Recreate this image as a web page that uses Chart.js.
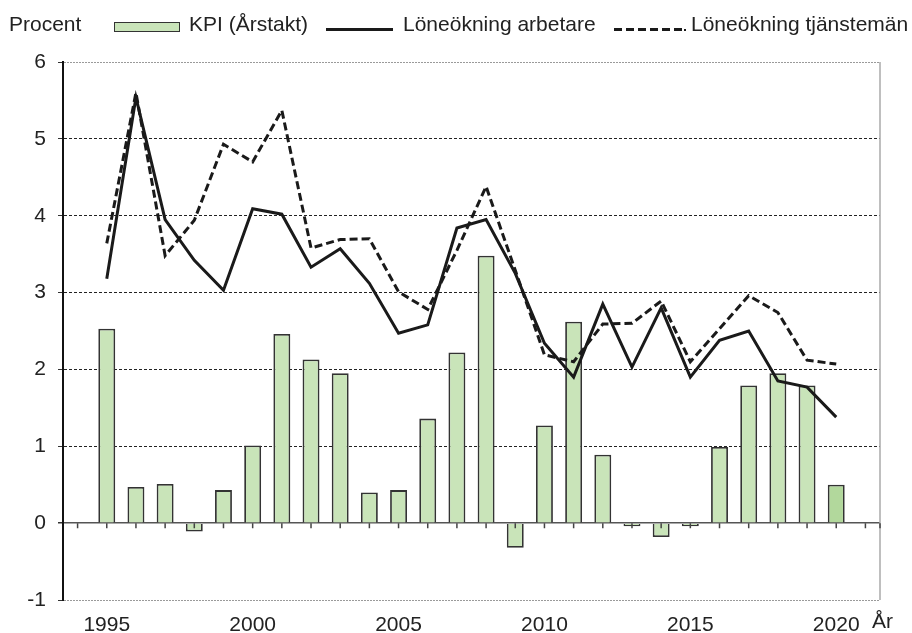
<!DOCTYPE html>
<html>
<head>
<meta charset="utf-8">
<script src="https://cdn.jsdelivr.net/npm/chart.js@4"></script>
<style>
  body { margin: 0; background: #fff; }
  #wrap { position: relative; width: 912px; height: 633px; font-family: "Liberation Sans", Arial, sans-serif; color: #222; }
  #wrap canvas { position: absolute; left: 0; top: 0; }
  .txt { position: absolute; font-size: 21px; line-height: 24px; white-space: nowrap; }
  .swatch { position: absolute; }
</style>
</head>
<body>
<div id="wrap">
  <canvas id="kpiChart" width="912" height="633"></canvas>
  <span class="txt" style="left:9px; top:12px;">Procent</span>
  <div class="swatch" style="left:114px; top:22px; width:64px; height:8px; background:#c9e4b9; border:1.5px solid #333;"></div>
  <span class="txt" style="left:189px; top:12px;">KPI (Årstakt)</span>
  <div class="swatch" style="left:326px; top:28px; width:67px; height:3px; background:#1a1a1a;"></div>
  <span class="txt" style="left:403px; top:12px;">Löneökning arbetare</span>
  <div class="swatch" style="left:614px; top:28px; width:68px; height:3px; background:repeating-linear-gradient(90deg, #1a1a1a 0 8px, transparent 8px 12px);"></div>
  <div class="swatch" style="left:684px; top:29px; width:2px; height:2px; background:#1a1a1a;"></div>
  <span class="txt" style="left:691px; top:12px;">Löneökning tjänstemän</span>
  <span class="txt" style="left:872px; top:609px;">År</span>
</div>
<script>
// Years on the category axis (1994 and 2021 are empty padding slots)
const years = [1994, 1995, 1996, 1997, 1998, 1999, 2000, 2001, 2002, 2003, 2004, 2005, 2006, 2007,
  2008, 2009, 2010, 2011, 2012, 2013, 2014, 2015, 2016, 2017, 2018, 2019, 2020, 2021];

// KPI, annual rate (bars)
const kpi = [null, 2.53, 0.47, 0.51, -0.11, 0.43, 1.01, 2.46, 2.13, 1.95, 0.40, 0.43, 1.36, 2.22,
  3.48, -0.32, 1.27, 2.62, 0.89, -0.04, -0.18, -0.04, 0.99, 1.79, 1.95, 1.79, 0.50, null];

// Wage increase, workers (solid line)
const arbetare = [null, 3.18, 5.54, 3.95, 3.42, 3.03, 4.09, 4.02, 3.33, 3.57, 3.12, 2.47, 2.58, 3.84,
  3.95, 3.25, 2.34, 1.90, 2.85, 2.03, 2.80, 1.90, 2.38, 2.50, 1.85, 1.77, 1.38, null];

// Wage increase, salaried employees (dashed line)
const tjansteman = [null, 3.64, 5.60, 3.48, 3.94, 4.93, 4.70, 5.37, 3.58, 3.69, 3.70, 3.01, 2.78, 3.55,
  4.38, 3.29, 2.19, 2.10, 2.59, 2.60, 2.89, 2.10, 2.53, 2.96, 2.74, 2.12, 2.07, null];

const yTicks = [-1, 0, 1, 2, 3, 4, 5, 6];

const fontFamily = '"Liberation Sans", Arial, sans-serif';

// bar colours, last year (2020) a bit darker
const barColors = years.map(y => y === 2020 ? '#b2d89c' : '#c9e4b9');

// zero line with small ticks at each year, plus right border of the plot
const framePlugin = {
  id: 'frame',
  afterDatasetsDraw(chart) {
    const { ctx, chartArea, scales } = chart;
    const y0 = scales.y.getPixelForValue(0);
    ctx.save();
    ctx.strokeStyle = '#aaa';
    ctx.lineWidth = 1.5;
    ctx.beginPath();
    ctx.moveTo(chartArea.right, chartArea.top);
    ctx.lineTo(chartArea.right, chartArea.bottom);
    ctx.stroke();

    ctx.strokeStyle = '#444';
    ctx.lineWidth = 1.5;
    ctx.beginPath();
    years.forEach((yr, i) => {
      const x = scales.x.getPixelForValue(i);
      ctx.moveTo(x, y0);
      ctx.lineTo(x, y0 + 5);
    });
    ctx.moveTo(chartArea.right, y0);
    ctx.lineTo(chartArea.right, y0 + 5);
    ctx.stroke();
    ctx.restore();
  }
};

// dash pattern per horizontal grid line
function gridDash(c) {
  if (!c.tick) return [];
  const v = c.tick.value;
  if (v === 0) return [];
  if (v === 6 || v === -1) return [2, 1];
  return [3, 2];
}

const ctx = document.getElementById('kpiChart').getContext('2d');
const chart = new Chart(ctx, {
  type: 'bar',
  data: {
    labels: years,
    datasets: [
      {
        type: 'line',
        label: 'Löneökning arbetare',
        data: arbetare,
        borderColor: '#1a1a1a',
        borderWidth: 3,
        pointRadius: 0,
        tension: 0,
        order: 0
      },
      {
        type: 'line',
        label: 'Löneökning tjänstemän',
        data: tjansteman,
        borderColor: '#1a1a1a',
        borderWidth: 3,
        borderDash: [8, 4],
        pointRadius: 0,
        tension: 0,
        order: 1
      },
      {
        type: 'bar',
        label: 'KPI (Årstakt)',
        data: kpi,
        backgroundColor: barColors,
        borderColor: '#333',
        borderWidth: 1.8,
        categoryPercentage: 1,
        barPercentage: 0.58,
        order: 2
      }
    ]
  },
  options: {
    responsive: false,
    animation: false,
    layout: { padding: { top: 62, right: 32, left: 0, bottom: 0 } },
    plugins: {
      legend: { display: false },
      tooltip: { enabled: false }
    },
    scales: {
      x: {
        type: 'category',
        offset: true,
        grid: { display: false },
        border: { display: false },
        afterFit: scale => { scale.height = 33; },
        ticks: {
          autoSkip: false,
          maxRotation: 0,
          padding: 5,
          color: '#222',
          font: { family: fontFamily, size: 21 },
          callback: function (value) {
            const yr = this.getLabelForValue(value);
            return yr % 5 === 0 ? String(yr) : '';
          }
        }
      },
      y: {
        min: -1,
        max: 6,
        afterFit: scale => { scale.width = 63; },
        afterBuildTicks: scale => { scale.ticks = yTicks.map(v => ({ value: v })); },
        border: { display: true, color: '#111', width: 2, dash: gridDash },
        grid: {
          color: c => {
            const v = c.tick ? c.tick.value : 0;
            if (v === 0) return '#555';
            if (v === 6 || v === -1) return '#9a9a9a';
            return '#222';
          },
          lineWidth: c => (c.tick && c.tick.value === 0) ? 1.5 : 1,
          tickColor: '#333',
          tickLength: 5,
          tickBorderDash: []
        },
        ticks: {
          padding: 12,
          color: '#222',
          font: { family: fontFamily, size: 21 }
        }
      }
    }
  },
  plugins: [framePlugin]
});
</script>
</body>
</html>
